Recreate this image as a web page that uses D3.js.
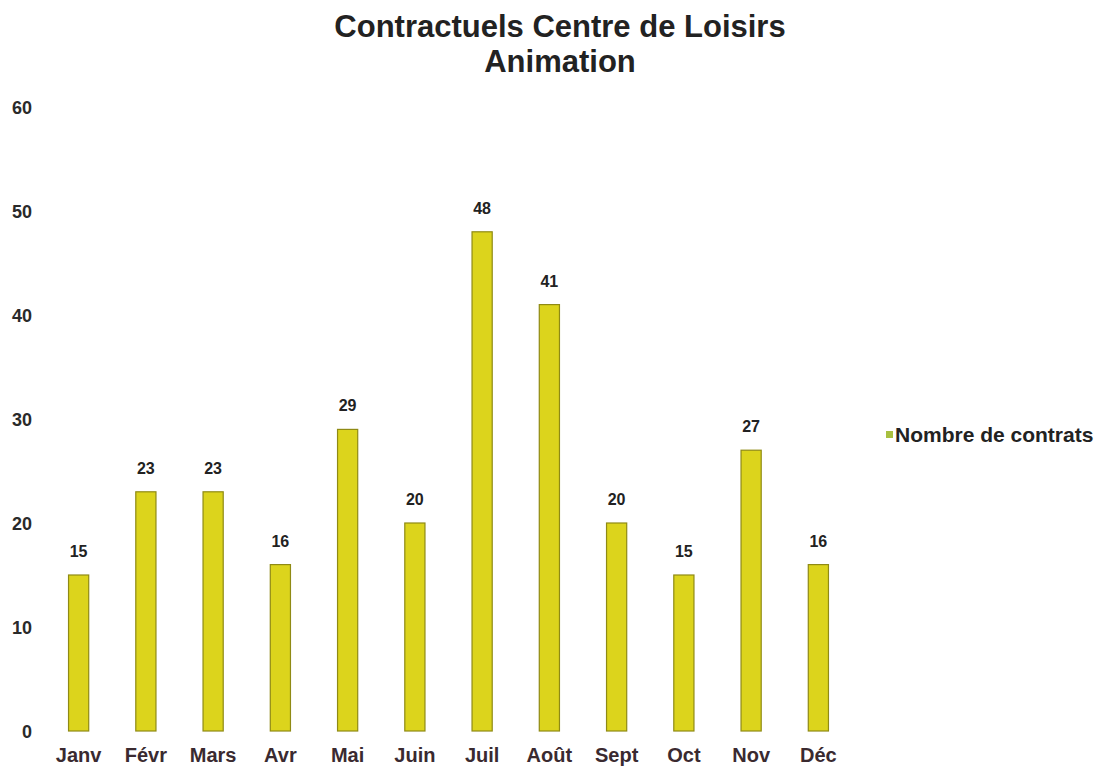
<!DOCTYPE html>
<html>
<head>
<meta charset="utf-8">
<script src="https://cdn.jsdelivr.net/npm/d3@7"></script>
<style>
  body { margin: 0; background: #fff; }
  text { font-family: "Liberation Sans", Arial, sans-serif; font-weight: bold; }
</style>
</head>
<body>
<div id="chart"></div>
<script>
// chart data
const months = ["Janv", "Févr", "Mars", "Avr", "Mai", "Juin", "Juil", "Août", "Sept", "Oct", "Nov", "Déc"];
const contracts = [15, 23, 23, 16, 29, 20, 48, 41, 20, 15, 27, 16];
const yTicks = [0, 10, 20, 30, 40, 50, 60];
const titleLines = ["Contractuels Centre de Loisirs", "Animation"];
const seriesName = "Nombre de contrats";

const width = 1098, height = 768;

const svg = d3.select("#chart").append("svg")
    .attr("width", width)
    .attr("height", height);

// scales
const x = d3.scaleBand()
    .domain(months)
    .range([45, 852])
    .paddingInner(0.7)
    .paddingOuter(0.35);

const y = d3.scaleLinear()
    .domain([0, 60])
    .range([731, 107]);

// title
svg.append("g").selectAll("text")
    .data(titleLines)
    .enter().append("text")
    .attr("x", 560)
    .attr("y", (d, i) => 37 + i * 35)
    .attr("text-anchor", "middle")
    .attr("font-size", 31)
    .attr("fill", "#222")
    .text(d => d);

// y axis labels (no line)
const yAxis = d3.axisLeft(y).tickValues(yTicks).tickSize(0).tickPadding(0);
const yg = svg.append("g")
    .attr("transform", "translate(32,0)")
    .call(yAxis);
yg.select(".domain").remove();
yg.selectAll("text")
    .attr("font-size", 18)
    .attr("fill", "#2a2a2a")
    .attr("dy", "0.35em");

// x axis labels
const xAxis = d3.axisBottom(x).tickSize(0).tickPadding(0);
const xg = svg.append("g")
    .attr("transform", "translate(0,747)")
    .call(xAxis);
xg.select(".domain").remove();
xg.selectAll("text")
    .attr("font-size", 20)
    .attr("fill", "#3a2a30")
    .attr("dy", "0.75em");

// bars
svg.append("g").selectAll("rect")
    .data(contracts)
    .enter().append("rect")
    .attr("x", (d, i) => x(months[i]))
    .attr("y", d => y(d))
    .attr("width", x.bandwidth())
    .attr("height", d => y(0) - y(d))
    .attr("fill", "#dcd41c")
    .attr("stroke", "#8f8a14")
    .attr("stroke-width", 1.2);

// data labels
svg.append("g").selectAll("text")
    .data(contracts)
    .enter().append("text")
    .attr("x", (d, i) => x(months[i]) + x.bandwidth() / 2)
    .attr("y", d => y(d) - 18)
    .attr("text-anchor", "middle")
    .attr("font-size", 16)
    .attr("fill", "#222")
    .text(d => d);

// legend
const legend = svg.append("g").attr("transform", "translate(886,435)");
legend.append("rect")
    .attr("x", 0)
    .attr("y", -4)
    .attr("width", 7)
    .attr("height", 7)
    .attr("fill", "#a8c040");
legend.append("text")
    .attr("x", 9)
    .attr("y", 0)
    .attr("dy", "0.35em")
    .attr("font-size", 21)
    .attr("fill", "#222")
    .text(seriesName);
</script>
</body>
</html>
